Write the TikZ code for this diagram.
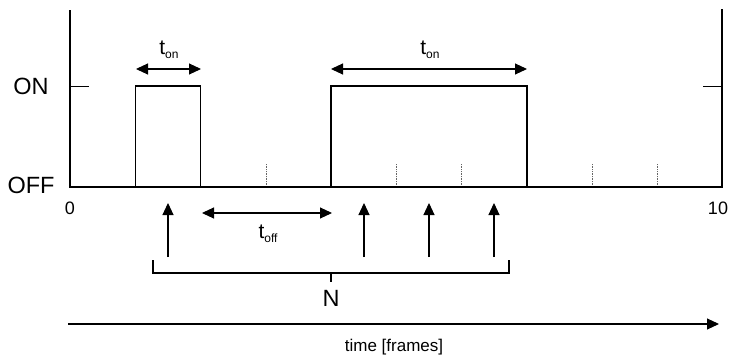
\documentclass[tikz,border=0pt]{standalone}
\usepackage{fontspec}
\setmainfont{Liberation Sans}
\usetikzlibrary{arrows.meta}
\newcommand{\tsub}[1]{t\raisebox{-3.5pt}{\fontsize{12}{12}\selectfont #1}}
\begin{document}
\begin{tikzpicture}[x=1pt,y=-1pt,
  axis/.style={line width=1.8pt},
  sig/.style={line width=1.8pt, line join=miter},
  leveltick/.style={line width=0.9pt},
  gridtick/.style={line width=0.7pt, densely dotted, black!60},
  dimarrow/.style={line width=1.1pt, {Triangle[width=11pt,length=12pt]}-{Triangle[width=11pt,length=12pt]}},
  uparrow/.style={line width=1.1pt, -{Triangle[width=11pt,length=12pt]}},
  timearrow/.style={line width=1.1pt, -{Triangle[width=11pt,length=12pt]}},
  bracketline/.style={line width=1.3pt},
  big/.style={inner sep=0pt, font=\fontsize{23.5}{25}\selectfont},
  num/.style={inner sep=0pt, font=\fontsize{18}{20}\selectfont},
  tlab/.style={inner sep=0pt, font=\fontsize{21}{23}\selectfont},
  caption/.style={inner sep=0pt, font=\fontsize{17}{19}\selectfont}
]
\useasboundingbox (0,0) rectangle (732,356);

% axes
\coordinate (ltop) at (70,10);
\coordinate (orig) at (70,187);
\coordinate (rbot) at (722,187);
\coordinate (rtop) at (722,9);
\draw[axis] (ltop) -- (orig) -- (rbot) -- (rtop);

% ON level ticks
\draw[leveltick] (70,86) -- (89,86);
\draw[leveltick] (703,86) -- (722,86);

% dotted frame ticks
\foreach \x in {266,396,461,592,657}
  \draw[gridtick] (\x,164) -- (\x,186);

% pulses
\draw[sig] (135.5,187) -- (135.5,86) -- (200.5,86) -- (200.5,187);
\draw[sig] (331,187) -- (331,86) -- (527,86) -- (527,187);

% level labels
\node[big] (on) at (31,86) {ON};
\node[big] (off) at (31,185) {OFF};
\node[num] (zero) at (70,208) {0};
\node[num] (ten) at (718,208) {10};

% t_on dimension arrows
\coordinate (a1l) at (136,69);
\coordinate (a1r) at (201,69);
\draw[dimarrow] (a1l) -- (a1r);
\node[tlab] (ton1) at (169,50) {\tsub{on}};

\coordinate (a2l) at (331,69);
\coordinate (a2r) at (527,69);
\draw[dimarrow] (a2l) -- (a2r);
\node[tlab] (ton2) at (430,50) {\tsub{on}};

% t_off dimension arrow
\coordinate (a3l) at (202,213);
\coordinate (a3r) at (332,213);
\draw[dimarrow] (a3l) -- (a3r);
\node[tlab] (toff) at (268,234) {\tsub{off}};

% sampling arrows
\foreach \n/\x in {1/168,2/364,3/429,4/494}{
  \coordinate (s\n b) at (\x,257);
  \coordinate (s\n t) at (\x,203);
  \draw[uparrow] (s\n b) -- (s\n t);
}

% bracket N
\coordinate (bl) at (153,260);
\coordinate (br) at (509,260);
\coordinate (bm) at (331,273);
\coordinate (bmt) at (331,282);
\draw[bracketline] (bl) -- (153,273) -- (509,273) -- (br);
\draw[bracketline] (bm) -- (bmt);
\node[big] (N) at (331,298) {N};

% time arrow
\coordinate (tstart) at (68,324);
\coordinate (tend) at (719,324);
\draw[timearrow] (tstart) -- (tend);
\node[caption] (time) at (394,347) {time [frames]};
\end{tikzpicture}
\end{document}
